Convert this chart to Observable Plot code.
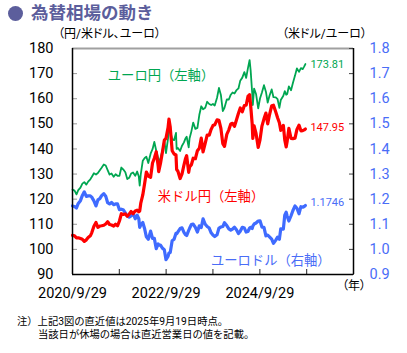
<!DOCTYPE html>
<html lang="ja"><head><meta charset="utf-8">
<script src="https://cdn.jsdelivr.net/npm/d3@7"></script>
<script src="https://cdn.jsdelivr.net/npm/@observablehq/plot@0.6"></script>
<style>
body{margin:0;background:#fff;font-family:"Roboto","Noto Sans CJK JP",sans-serif;font-feature-settings:"palt";}
#wrap{position:relative;width:407px;height:353px;overflow:hidden;background:#fff}
#chart{position:absolute;left:0;top:0}
.abs{position:absolute;white-space:nowrap;line-height:1}
.nopalt{font-feature-settings:normal}
</style></head><body>
<div id="wrap">
<div id="chart"></div>
<div class="abs" style="left:8px;top:6px;width:15px;height:15px;border-radius:50%;background:#5c5e9c"></div>
<div class="abs nopalt" style="left:31px;top:5px;font-size:17.5px;font-weight:bold;color:#5c5e9c">為替相場の動き</div>
<div class="abs" style="left:58px;top:28px;font-size:12px;color:#000">（円/米ドル、ユーロ）</div>
<div class="abs" style="left:282px;top:28px;font-size:12px;color:#000">（米ドル/ユーロ）</div>
<div class="abs" style="left:342px;top:280px;font-size:12px;color:#000">（年）</div>
<div class="abs nopalt" style="left:17px;top:317.3px;font-size:10.3px;color:#000">注）上記3図の直近値は2025年9月19日時点。</div>
<div class="abs nopalt" style="left:38px;top:329.6px;font-size:10.3px;color:#000">当該日が休場の場合は直近営業日の値を記載。</div>
</div>
<script>
const dates=["2020-09-29","2020-10-15","2020-10-30","2020-11-13","2020-11-30","2020-12-15","2020-12-30",
"2021-01-15","2021-01-29","2021-02-15","2021-02-26","2021-03-15","2021-03-31","2021-04-15","2021-04-30",
"2021-05-14","2021-05-31","2021-06-15","2021-06-30","2021-07-15","2021-07-30","2021-08-16","2021-08-31",
"2021-09-15","2021-09-30","2021-10-15","2021-10-29","2021-11-15","2021-11-30","2021-12-15","2021-12-30",
"2022-01-14","2022-01-31","2022-02-15","2022-02-28","2022-03-07","2022-03-15","2022-03-31","2022-04-15",
"2022-04-28","2022-05-13","2022-05-31","2022-06-15","2022-06-29","2022-07-14","2022-07-29","2022-08-02",
"2022-08-16","2022-08-31","2022-09-15","2022-09-28","2022-10-14","2022-10-21","2022-10-31","2022-11-15",
"2022-11-30","2022-12-15","2022-12-20","2022-12-30","2023-01-16","2023-01-31","2023-02-15","2023-02-28",
"2023-03-08","2023-03-24","2023-03-31","2023-04-14","2023-04-28","2023-05-15","2023-05-31","2023-06-15",
"2023-06-30","2023-07-14","2023-07-31","2023-08-15","2023-08-31","2023-09-15","2023-09-29","2023-10-13",
"2023-10-31","2023-11-15","2023-11-30","2023-12-15","2023-12-28","2024-01-15","2024-01-31","2024-02-15",
"2024-02-29","2024-03-15","2024-03-29","2024-04-15","2024-04-29","2024-05-15","2024-05-31","2024-06-14",
"2024-06-28","2024-07-11","2024-07-19","2024-07-31","2024-08-05","2024-08-15","2024-08-30","2024-09-16",
"2024-09-30","2024-10-15","2024-10-31","2024-11-15","2024-11-29","2024-12-13","2024-12-30","2025-01-13",
"2025-01-31","2025-02-14","2025-02-28","2025-03-11","2025-03-31","2025-04-11","2025-04-22","2025-04-30",
"2025-05-13","2025-05-30","2025-06-13","2025-06-30","2025-07-15","2025-07-31","2025-08-15","2025-08-29",
"2025-09-10","2025-09-19"];
const usdjpy=[105.6,105.4,104.6,104.6,104.3,104.0,103.2,
103.8,104.7,105.4,106.6,109.2,110.7,108.8,109.3,
109.4,109.6,110.1,111.0,109.9,109.7,109.3,110.0,
109.4,111.3,114.2,113.9,114.1,113.2,114.0,115.1,
114.2,115.3,115.6,115.0,115.3,118.3,121.7,126.4,
130.8,129.2,128.7,134.4,136.3,138.9,133.2,131.0,
134.2,138.7,143.5,144.2,148.5,151.9,148.7,139.3,
138.0,137.6,131.8,131.1,128.2,130.1,133.6,136.3,
137.3,130.7,132.8,133.7,136.3,136.1,139.3,140.3,
144.3,138.8,142.3,145.5,145.5,147.8,149.3,149.6,
151.6,151.4,148.2,142.1,141.0,145.8,147.6,149.9,
150.2,149.0,151.3,154.2,156.3,154.8,157.3,157.4,
160.9,161.6,157.4,150.0,144.2,149.2,146.2,140.6,
143.6,149.1,152.0,154.3,150.0,153.6,157.2,157.4,
154.7,152.4,150.4,147.4,149.4,143.6,140.8,143.1,
148.2,144.2,144.1,144.3,147.8,149.5,147.2,147.3,
147.6,147.95];
const eurjpy=[123.8,123.4,121.9,123.6,124.6,126.2,126.8,
125.8,127.0,127.9,128.8,130.3,129.8,130.4,131.5,
132.5,133.8,133.4,131.6,129.8,130.2,128.9,129.9,
129.3,129.3,132.6,131.9,130.7,128.0,128.5,130.2,
130.6,129.3,131.0,129.0,125.4,129.8,135.3,136.4,
136.9,134.4,138.1,139.9,142.8,139.3,136.3,134.1,
136.4,139.3,143.3,138.3,144.2,147.6,147.0,144.0,
143.5,146.4,140.0,140.4,139.2,141.3,142.6,144.3,
144.9,140.6,144.3,147.0,150.5,148.0,148.4,153.6,
157.0,155.8,156.4,158.8,157.9,157.5,157.9,157.3,
160.4,164.3,161.5,155.1,156.4,159.7,159.7,161.6,
162.5,162.1,163.3,164.1,167.2,168.4,170.6,168.3,
172.2,175.4,171.3,162.4,157.5,164.0,161.9,156.2,
160.1,162.5,165.4,162.8,158.5,161.2,163.7,160.6,
160.5,159.8,156.4,159.5,161.2,163.0,161.6,161.9,
164.9,163.4,166.2,169.2,172.1,170.7,172.2,171.8,
172.9,173.81];
const eurusd=[1.173,1.171,1.165,1.183,1.194,1.215,1.229,
1.211,1.213,1.213,1.208,1.193,1.173,1.197,1.202,
1.214,1.222,1.212,1.186,1.181,1.187,1.178,1.181,
1.181,1.158,1.160,1.158,1.145,1.133,1.128,1.133,
1.145,1.122,1.136,1.122,1.088,1.097,1.107,1.081,
1.050,1.040,1.073,1.044,1.044,1.003,1.022,1.017,
1.017,1.005,0.999,0.959,0.972,0.986,0.988,1.034,
1.040,1.064,1.062,1.070,1.083,1.086,1.068,1.058,
1.055,1.076,1.084,1.099,1.101,1.088,1.069,1.094,
1.087,1.122,1.100,1.091,1.085,1.066,1.057,1.051,
1.058,1.085,1.089,1.091,1.106,1.095,1.082,1.077,
1.081,1.088,1.079,1.063,1.072,1.088,1.085,1.069,
1.071,1.085,1.088,1.083,1.093,1.101,1.105,1.113,
1.114,1.089,1.088,1.054,1.057,1.050,1.041,1.024,
1.037,1.049,1.040,1.082,1.081,1.136,1.148,1.132,
1.113,1.134,1.154,1.173,1.164,1.142,1.170,1.168,
1.171,1.1746];
const leftTicks=[90,100,110,120,130,140,150,160,170,180];
const rightTicks=[0.9,1.0,1.1,1.2,1.3,1.4,1.5,1.6,1.7,1.8];
const xTickDates=["2020-09-29","2021-09-29","2022-09-29","2023-09-29","2024-09-29","2025-09-29","2026-09-29"];
const xLabelDates=["2020-09-29","2022-09-29","2024-09-29"];
const xTickLabels=["2020/9/29","2022/9/29","2024/9/29"];
const seriesNames=["ユーロ円（左軸）","米ドル円（左軸）","ユーロドル（右軸）"];

const parse=d3.utcParse("%Y-%m-%d");
const rows=dates.map((d,i)=>({date:parse(d),usdjpy:usdjpy[i],eurjpy:eurjpy[i],eurusd:eurusd[i]}));
const last=rows[rows.length-1];
const xTicks=xTickDates.map(parse);
const xLab=xLabelDates.map(parse);
const labMap=new Map(xLab.map((d,i)=>[+d,xTickLabels[i]]));
const x0=xTicks[0], x1=xTicks[xTicks.length-1];
const GREEN="#00a651", RED="#ff0000", BLUE="#3f6bff", BLUET="#4a6df7";
const rScale=v=>v*100; // right axis mapped onto left scale (0.9→90, 1.8→180)

const chart=Plot.plot({
  width:407,height:353,
  marginLeft:72,marginRight:54,marginTop:48,marginBottom:79,
  style:{fontFamily:'"Roboto","Noto Sans CJK JP",sans-serif',background:"transparent",overflow:"visible"},
  x:{type:"utc",domain:[x0,x1]},
  y:{domain:[90,180]},
  marks:[
    Plot.ruleY([180],{stroke:"#a0a0a0",strokeWidth:2}),
    Plot.axisY({anchor:"left",ticks:leftTicks,tickSize:-5,text:null,stroke:"#999"}),
    Plot.axisY({anchor:"right",ticks:rightTicks.map(rScale),tickSize:-5,text:null,stroke:"#444"}),
    Plot.axisX({ticks:xTicks,tickSize:-5,text:null,stroke:"#222"}),
    Plot.axisY({anchor:"left",ticks:leftTicks,tickSize:0,tickPadding:19,fontSize:14.5,fill:"#000",label:null}),
    Plot.axisY({anchor:"right",ticks:rightTicks.map(rScale),tickFormat:d=>(d/100).toFixed(1),tickSize:0,tickPadding:16,fontSize:14.5,fill:BLUET,label:null}),
    Plot.axisX({ticks:xLab,tickFormat:d=>labMap.get(+d),tickSize:0,tickPadding:13,fontSize:14.5,fill:"#000",label:null}),
    Plot.line(rows,{x:"date",y:d=>rScale(d.eurusd),stroke:BLUE,strokeWidth:3.2}),
    Plot.line(rows,{x:"date",y:"eurjpy",stroke:GREEN,strokeWidth:1.8}),
    Plot.line(rows,{x:"date",y:"usdjpy",stroke:RED,strokeWidth:3.2}),
    Plot.ruleX([x0],{stroke:"#000",strokeWidth:1.5}),
    Plot.ruleX([x1],{stroke:"#000",strokeWidth:1.5}),
    Plot.ruleY([90],{stroke:"#000",strokeWidth:1.5}),
    Plot.text([last],{x:"date",y:"eurjpy",text:d=>d.eurjpy.toFixed(2),dx:5,textAnchor:"start",fontSize:11,fill:GREEN}),
    Plot.text([last],{x:"date",y:"usdjpy",text:d=>d.usdjpy.toFixed(2),dx:5,dy:-2,textAnchor:"start",fontSize:11,fill:RED}),
    Plot.text([last],{x:"date",y:d=>rScale(d.eurusd),text:d=>d.eurusd.toFixed(4),dx:5,dy:-3,textAnchor:"start",fontSize:11,fill:BLUET}),
    Plot.text([seriesNames[0]],{x:parse("2022-08-20"),y:169,text:d=>d,fontSize:13.3,fill:GREEN,className:"nopalt"}),
    Plot.text([seriesNames[1]],{x:parse("2023-09-14"),y:120.8,text:d=>d,fontSize:13.3,fill:RED,className:"nopalt"}),
    Plot.text([seriesNames[2]],{x:parse("2024-12-23"),y:95.3,text:d=>d,fontSize:13.3,fill:BLUET,className:"nopalt"})
  ]
});
document.getElementById("chart").appendChild(chart);
</script>
</body></html>
